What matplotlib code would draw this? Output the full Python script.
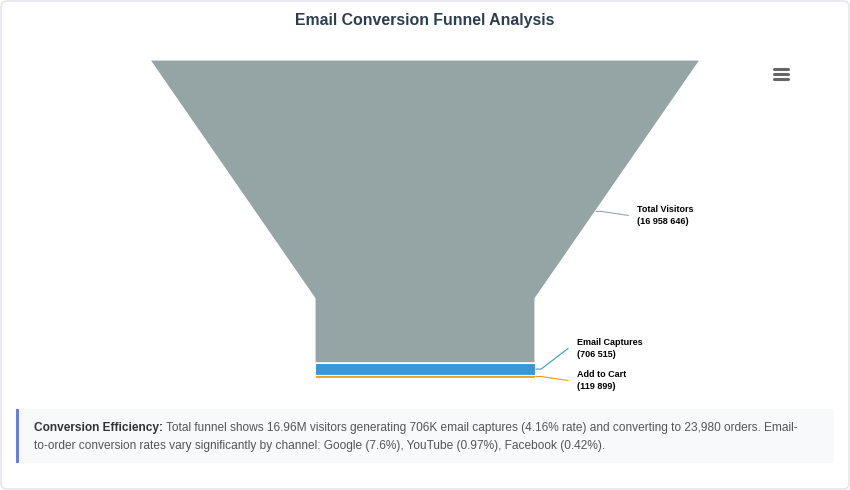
import numpy as np
import matplotlib
matplotlib.use("Agg")
import matplotlib.pyplot as plt
from matplotlib.patches import FancyBboxPatch, Rectangle

plt.rcParams['font.family'] = ['Liberation Sans', 'DejaVu Sans']

# funnel data
stages = ['Total Visitors', 'Email Captures', 'Add to Cart', 'Orders']
values = [16958646, 706515, 119899, 23980]
colors = ['#95a5a6', '#3498db', '#f39c12', '#2ecc71']
show_label = [True, True, True, False]

title = "Email Conversion Funnel Analysis"
note_bold = "Conversion Efficiency:"
note_line1 = (" Total funnel shows 16.96M visitors generating 706K email captures "
              "(4.16% rate) and converting to 23,980 orders. Email-")
note_line2 = ("to-order conversion rates vary significantly by channel: Google (7.6%), "
              "YouTube (0.97%), Facebook (0.42%).")

W, H = 850, 490
fig = plt.figure(figsize=(W / 100, H / 100), dpi=100)
ax = fig.add_axes([0, 0, 1, 1])
ax.set_xlim(0, W)
ax.set_ylim(H, 0)
ax.axis('off')

# card frame
ax.add_patch(FancyBboxPatch((1, 1), W - 2, H - 2, boxstyle="round,pad=0,rounding_size=6",
                            fc='white', ec='#dfe4ea', lw=1))

ax.text(W / 2, 21, title, ha='center', va='center', fontsize=11.4,
        fontweight='bold', color='#2c3e50')

# funnel geometry (pixel space of the figure)
cx, top, height = 425, 60, 318
width, neck_w, neck_h = 550, 220, 0.25


def half_width(y):
    neck_y = top + height * (1 - neck_h)
    if y >= neck_y:
        return neck_w / 2
    f = (y - top) / (neck_y - top)
    return width / 2 - f * (width - neck_w) / 2


def outline(y0, y1):
    neck_y = top + height * (1 - neck_h)
    ys = [y0] + ([neck_y] if y0 < neck_y < y1 else []) + [y1]
    xs_r = [cx + half_width(y) for y in ys]
    xs_l = [cx - half_width(y) for y in ys]
    return xs_r + xs_l[::-1], ys + ys[::-1]


total = float(sum(values))
bounds = top + height * np.concatenate([[0], np.cumsum(values) / total])

centers = []
for i, v in enumerate(values):
    xs, ys = outline(bounds[i], bounds[i + 1])
    ax.fill(xs, ys, color=colors[i], ec='white', lw=0.8, zorder=2)
    centers.append((bounds[i] + bounds[i + 1]) / 2)

# label placement, pushed up when they would overlap
label_y = [c + 4 for c in centers]
min_gap = 32
prev = None
for i in reversed(range(len(values))):
    if not show_label[i]:
        continue
    if prev is not None and label_y[i] > prev - min_gap:
        label_y[i] = prev - min_gap
    prev = label_y[i]

for i, name in enumerate(stages):
    if not show_label[i]:
        continue
    ex = cx + half_width(centers[i]) + 1
    lx = ex + 41
    ax.plot([ex, ex + 5, lx - 9], [centers[i], centers[i], label_y[i]],
            color=colors[i], lw=0.8, zorder=3)
    lab = f"{name}\n({values[i]:,})".replace(',', ' ')
    ax.text(lx, label_y[i], lab, ha='left', va='center', fontsize=6.5,
            fontweight='bold', color='black', linespacing=1.35)

# menu icon
for yy in (69, 74, 79):
    ax.plot([774, 788], [yy, yy], color='#666666', lw=2.2, solid_capstyle='round')

# note box
ax.add_patch(Rectangle((16, 409), 818, 54, fc='#f8f9fa', ec='none'))
ax.add_patch(Rectangle((16, 409), 3, 54, fc='#667eea', ec='none'))
t = ax.text(34, 434, note_bold, ha='left', va='bottom', fontsize=8.6,
            fontweight='bold', color='#333333')
ax.annotate(note_line1, xy=(1, 0), xycoords=t, ha='left', va='bottom',
            fontsize=8.6, color='#555555')
ax.text(34, 452, note_line2, ha='left', va='bottom', fontsize=8.6, color='#555555')

fig.savefig('out.png', dpi=100)
